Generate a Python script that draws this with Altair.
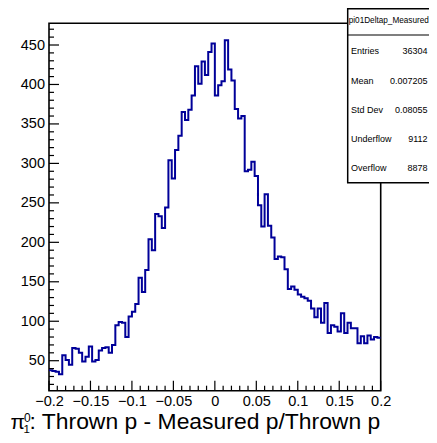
import altair as alt
import pandas as pd

# ---- data ----
counts = [38, 37, 36, 33, 57, 51, 45, 66, 65, 60, 49, 55, 68, 49, 51, 63, 66, 67, 60, 70,
          95, 99, 98, 80, 106, 112, 122, 155, 137, 165, 204, 190, 236, 233, 218, 244, 304, 281, 317, 335,
          365, 355, 368, 386, 423, 401, 429, 412, 441, 452, 386, 399, 404, 456, 419, 405, 369, 357, 360, 290,
          292, 302, 284, 247, 220, 261, 221, 206, 179, 182, 181, 166, 141, 144, 140, 134, 131, 129, 126, 116,
          105, 116, 98, 123, 85, 95, 93, 87, 110, 85, 98, 91, 91, 72, 81, 72, 82, 77, 80, 79]
x_min, x_max = -0.2, 0.2
y_range = [12, 477.5]
x_ticks = [-0.2, -0.15, -0.1, -0.05, 0, 0.05, 0.1, 0.15, 0.2]
y_ticks = [50, 100, 150, 200, 250, 300, 350, 400, 450]
hist_name = "pi01Deltap_Measured"
stats_labels = ["Entries", "Mean", "Std Dev", "Underflow", "Overflow"]
stats_values = ["36304", "0.007205", "0.08055", "9112", "8878"]
title_main = ": Thrown p - Measured p/Thrown p"

# ---- build tables ----
n = len(counts)
bw = (x_max - x_min) / n
edges = [x_min + bw * i for i in range(n + 1)]
hist_df = pd.DataFrame({"x": edges, "y": counts + [counts[-1]]})

x_minor = [round(x_min + 0.01 * i, 4) for i in range(41) if i % 5 != 0]
y_minor = [v for v in range(20, 480, 10) if v % 50 != 0]

W, H = 331.7, 367.4
PAD_L, PAD_T = 41, 15.3
PAD_R = 421 - PAD_L - W
PAD_B = 427 - PAD_T - H
FONT = "Liberation Sans"
xscale = alt.Scale(domain=[x_min, x_max], nice=False, zero=False)
yscale = alt.Scale(domain=y_range, nice=False, zero=False)
xaxis = alt.Axis(values=x_ticks, format="~g", title=None, ticks=False, tickSize=0, domain=False,
                 grid=False, labelFont=FONT, labelFontSize=14.5, labelColor="black",
                 labelPadding=4, labelFlush=False, labelOverlap=False)
yaxis = alt.Axis(values=y_ticks, title=None, ticks=False, tickSize=0, domain=False,
                 grid=False, labelFont=FONT, labelFontSize=14.5, labelColor="black",
                 labelPadding=4.5, labelFlush=False, labelOverlap=False)
one = pd.DataFrame({"a": [0]})

hist = alt.Chart(hist_df).mark_line(
    interpolate="step-after", color="#000099", strokeWidth=2, clip=True
).encode(
    x=alt.X("x:Q", scale=xscale, axis=xaxis),
    y=alt.Y("y:Q", scale=yscale, axis=yaxis),
)

def xtick(vals, length):
    return alt.Chart(pd.DataFrame({"v": vals})).mark_rule(color="black", strokeWidth=1.2).encode(
        x=alt.X("v:Q", scale=xscale, axis=xaxis), y=alt.value(H), y2=alt.value(H - length))

def ytick(vals, length):
    return alt.Chart(pd.DataFrame({"v": vals})).mark_rule(color="black", strokeWidth=1.2).encode(
        y=alt.Y("v:Q", scale=yscale, axis=yaxis), x=alt.value(0), x2=alt.value(length))

layers = [hist, xtick(x_ticks, 10), xtick(x_minor, 5), ytick(y_ticks, 10), ytick(y_minor, 5)]

# stats box
bx0, bx1, by0, by1 = 298.7, 386, -14.5, 159.4
layers.append(alt.Chart(one).mark_rect(fill="white", stroke="black", strokeWidth=1.5).encode(
    x=alt.value(bx0), x2=alt.value(bx1), y=alt.value(by0), y2=alt.value(by1)))
layers.append(alt.Chart(one).mark_rule(color="black", strokeWidth=1.2).encode(
    x=alt.value(bx0), x2=alt.value(bx1), y=alt.value(11.7)))
layers.append(alt.Chart(one).mark_text(align="left", baseline="middle", font=FONT, fontSize=8.2,
                                       color="black").encode(
    x=alt.value(bx0 + 1), y=alt.value(-2.3), text=alt.value(hist_name)))
row_y = [27.4, 57.4, 86.4, 116.0, 145.0]
for lab, val, ry in zip(stats_labels, stats_values, row_y):
    layers.append(alt.Chart(one).mark_text(align="left", baseline="middle", font=FONT, fontSize=9,
                                           color="black").encode(
        x=alt.value(302), y=alt.value(ry), text=alt.value(lab)))
    layers.append(alt.Chart(one).mark_text(align="right", baseline="middle", font=FONT, fontSize=9,
                                           color="black").encode(
        x=alt.value(378.5), y=alt.value(ry), text=alt.value(val)))

# x-axis title: pi with stacked sub/superscript
layers.append(alt.Chart(one).mark_text(align="left", baseline="alphabetic", font=FONT, fontSize=21,
                                       color="black").encode(
    x=alt.value(-38.5), y=alt.value(405.7), text=alt.value("π")))
layers.append(alt.Chart(one).mark_text(align="left", baseline="alphabetic", font=FONT, fontSize=12,
                                       color="black").encode(
    x=alt.value(-25), y=alt.value(398.4), text=alt.value("0")))
layers.append(alt.Chart(one).mark_text(align="left", baseline="alphabetic", font=FONT, fontSize=11.5,
                                       color="black").encode(
    x=alt.value(-25.5), y=alt.value(409.3), text=alt.value("1")))
layers.append(alt.Chart(one).mark_text(align="left", baseline="alphabetic", font=FONT, fontSize=22.9,
                                       color="black").encode(
    x=alt.value(-19.5), y=alt.value(405.7), text=alt.value(title_main)))

chart = alt.layer(*layers).properties(
    width=W, height=H,
    autosize=alt.AutoSizeParams(type="none"),
    padding={"left": PAD_L, "top": PAD_T, "right": PAD_R, "bottom": PAD_B},
).configure_view(stroke="black", strokeWidth=1.6)

chart.save("out.html", embed_options={"renderer": "svg", "actions": False})
